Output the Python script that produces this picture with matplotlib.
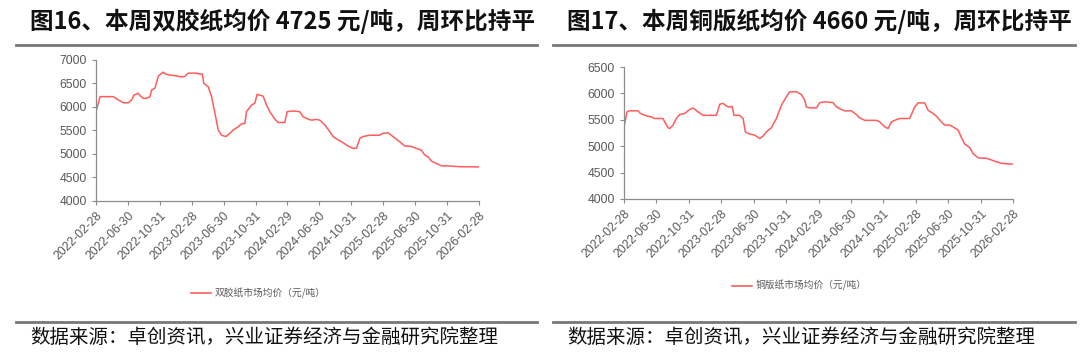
import matplotlib
matplotlib.use("Agg")
import matplotlib.pyplot as plt
from matplotlib.lines import Line2D

plt.rcParams['font.family'] = ['Liberation Sans', 'Noto Sans CJK SC', 'DejaVu Sans']

# x 轴刻度标签（每 4 个月一个）
tick_labels = ['2022-02-28', '2022-06-30', '2022-10-31', '2023-02-28', '2023-06-30',
               '2023-10-31', '2024-02-29', '2024-06-30', '2024-10-31', '2025-02-28',
               '2025-06-30', '2025-10-31', '2026-02-28']

# 双胶纸：距 2022-02-28 的月数，价格（元/吨）
shuangjiao_m = [0, 0.5, 0.71, 2.17, 2.8, 3.42, 4.05, 4.47, 4.76, 5.3, 5.63, 5.93, 6.34, 6.76,
                6.97, 7.39, 7.8, 8.1, 8.43, 8.72, 9.27, 10.1, 10.73, 11.14, 11.56, 11.98,
                12.6, 13.02, 13.31, 13.52, 14.07, 14.48, 14.9, 15.32, 15.73, 16.28, 16.78,
                17.2, 17.82, 18.24, 18.66, 18.86, 19.49, 19.91, 20.2, 20.95, 21.37, 21.79,
                22.41, 22.83, 23.66, 23.96, 24.71, 25.54, 25.96, 26.59, 27.0, 27.63, 28.05,
                28.67, 29.3, 29.72, 30.34, 30.97, 31.59, 32.22, 32.64, 33.06, 33.47, 34.31,
                35.56, 35.98, 36.6, 37.23, 38.06, 38.69, 39.52, 40.15, 40.78, 41.19, 41.61,
                42.03, 42.65, 43.28, 44.12, 45.58, 48.0]
shuangjiao_v = [5900, 6220, 6220, 6220, 6150, 6090, 6090, 6150, 6255, 6290, 6220, 6185, 6185,
                6220, 6360, 6400, 6650, 6700, 6740, 6700, 6680, 6660, 6640, 6650, 6720, 6720,
                6720, 6700, 6700, 6500, 6430, 6220, 5870, 5510, 5400, 5370, 5440, 5510, 5580,
                5640, 5650, 5900, 6040, 6080, 6270, 6230, 6040, 5900, 5740, 5670, 5670, 5900,
                5915, 5900, 5790, 5740, 5720, 5735, 5720, 5620, 5475, 5370, 5300, 5240, 5170,
                5120, 5120, 5330, 5370, 5400, 5400, 5440, 5450, 5370, 5260, 5170, 5160, 5120,
                5080, 4980, 4940, 4850, 4800, 4750, 4745, 4730, 4725]

# 铜版纸
tongban_m = [0, 0.37, 0.62, 1.73, 2.02, 2.76, 3.37, 3.78, 4.81, 5.02, 5.43, 5.64, 6.05, 6.46,
             6.87, 7.49, 8.1, 8.52, 9.13, 9.75, 11.39, 11.81, 12.22, 12.83, 13.12, 13.33,
             13.57, 14.27, 14.69, 14.97, 15.51, 16.12, 16.74, 17.15, 17.56, 18.18, 18.8,
             19.42, 20.03, 20.44, 21.27, 21.88, 22.3, 22.5, 22.91, 23.74, 24.15, 24.76, 25.79,
             26.2, 26.82, 27.23, 28.05, 28.67, 29.08, 29.7, 31.14, 31.55, 32.17, 32.58, 32.99,
             33.4, 34.02, 35.25, 35.87, 36.28, 37.1, 37.52, 38.13, 38.54, 39.16, 39.57, 40.19,
             40.6, 41.22, 41.63, 42.04, 42.66, 43.07, 43.69, 44.71, 45.33, 45.95, 46.56, 48.0]
tongban_v = [5367, 5650, 5670, 5670, 5620, 5575, 5555, 5525, 5525, 5460, 5350, 5335, 5400,
             5525, 5600, 5620, 5695, 5725, 5650, 5585, 5585, 5795, 5810, 5745, 5745, 5755,
             5585, 5585, 5525, 5270, 5230, 5210, 5145, 5190, 5270, 5350, 5525, 5775, 5935,
             6030, 6030, 5980, 5870, 5745, 5725, 5725, 5825, 5840, 5825, 5745, 5695, 5670,
             5670, 5600, 5535, 5490, 5490, 5460, 5367, 5335, 5460, 5490, 5525, 5525, 5745,
             5820, 5820, 5680, 5620, 5570, 5460, 5400, 5400, 5367, 5305, 5165, 5040, 4975,
             4860, 4780, 4770, 4740, 4705, 4675, 4660]

titles = ['图16、本周双胶纸均价 4725 元/吨，周环比持平', '图17、本周铜版纸均价 4660 元/吨，周环比持平']
legend_names = ['双胶纸市场均价（元/吨）', '铜版纸市场均价（元/吨）']
source = '数据来源：卓创资讯，兴业证券经济与金融研究院整理'

red = '#ff5c5c'
gray = '#595959'
cjk = ['Noto Sans CJK SC', 'DejaVu Sans']

fig = plt.figure(figsize=(10.8, 3.57), dpi=100)


def panel(rect, xs, ys, ylim, yticks, title, name, px, leg_xy):
    ax = fig.add_axes(rect)
    ax.plot(xs, ys, color=red, lw=1.1)
    ax.set_xlim(0, 48)
    ax.set_ylim(*ylim)
    ax.set_yticks(yticks)
    ax.set_xticks(range(0, 49, 4))
    ax.set_xticklabels(tick_labels, rotation=45, ha='right', rotation_mode='anchor')
    for s in ['top', 'right']:
        ax.spines[s].set_visible(False)
    for s in ['left', 'bottom']:
        ax.spines[s].set_color('#8c8c8c')
        ax.spines[s].set_linewidth(0.9)
    ax.tick_params(colors='#8c8c8c', labelcolor=gray, labelsize=8.7, length=3, width=0.8)
    # 标题与分隔线
    fig.text(px[0] + 0.013, 0.94, title, fontsize=17, fontweight='bold',
             family=cjk, va='center', ha='left', color='#111111')
    fig.add_artist(Line2D([px[0], px[1]], [0.873, 0.873], color='#777777', lw=2))
    fig.add_artist(Line2D([px[0], px[1]], [0.098, 0.098], color='#777777', lw=2))
    fig.text(px[0] + 0.013, 0.056, source, fontsize=14, family=cjk,
             va='center', ha='left', color='#111111')
    # 图例
    fig.add_artist(Line2D([leg_xy[0], leg_xy[0] + 0.018], [leg_xy[1], leg_xy[1]],
                          color=red, lw=1.2))
    fig.text(leg_xy[0] + 0.022, leg_xy[1], name, fontsize=7, family=cjk,
             va='center', ha='left', color=gray)
    return ax


panel([0.0889, 0.437, 0.3546, 0.395], shuangjiao_m, shuangjiao_v, (4000, 7000),
      range(4000, 7001, 500), titles[0], legend_names[0], (0.015, 0.497), (0.177, 0.179))
panel([0.5778, 0.4426, 0.3602, 0.3697], tongban_m, tongban_v, (4000, 6500),
      range(4000, 6501, 500), titles[1], legend_names[1], (0.512, 0.995), (0.678, 0.199))

plt.savefig('out.png', dpi=100)
